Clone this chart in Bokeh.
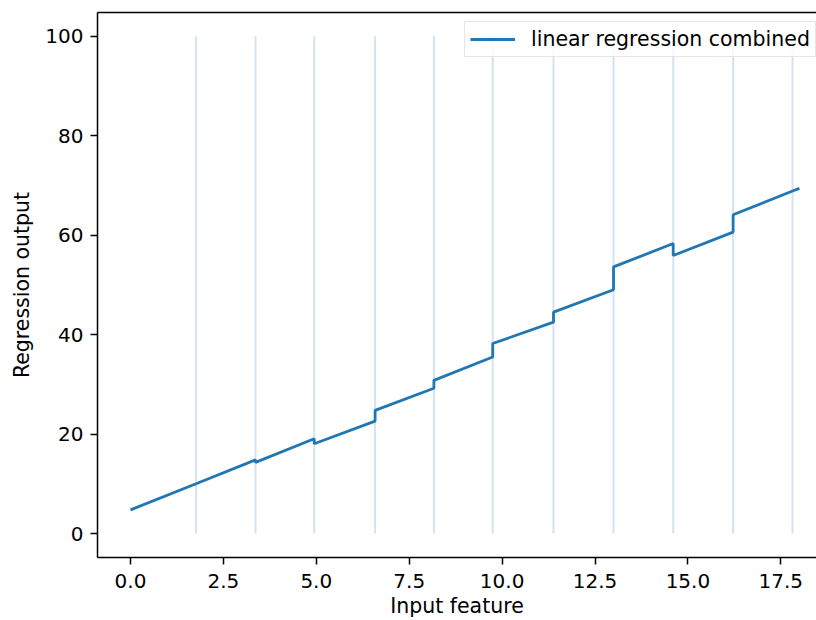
from bokeh.plotting import figure
from bokeh.models import Range1d, FixedTicker, LinearAxis, Legend, LegendItem
from bokeh.embed import file_html
from bokeh.resources import INLINE

# ---- data ----
bin_edges = [0.0, 1.765, 3.364, 4.943, 6.582, 8.165, 9.747, 11.383, 12.998, 14.604, 16.216, 17.815, 18.0]
seg_start = [4.75, 10.0, 14.3, 18.05, 24.75, 30.8, 38.2, 44.5, 53.6, 55.9, 64.1, 68.85]
seg_end = [10.0, 14.8, 19.05, 22.6, 29.2, 35.5, 42.5, 49.0, 58.3, 60.6, 68.85, 69.4]
vline_x = bin_edges[1:-1]
vline_bottom = [0] * len(vline_x)
vline_top = [100] * len(vline_x)
x_ticks = [0, 2.5, 5, 7.5, 10, 12.5, 15, 17.5]
x_tick_labels = ["0.0", "2.5", "5.0", "7.5", "10.0", "12.5", "15.0", "17.5"]
y_ticks = [0, 20, 40, 60, 80, 100]
series_label = "linear regression combined"
x_label = "Input feature"
y_label = "Regression output"

line_x, line_y = [], []
for i in range(len(seg_start)):
    line_x += [bin_edges[i], bin_edges[i + 1]]
    line_y += [seg_start[i], seg_end[i]]

FONT = "DejaVu Sans"
BLUE = "#1f77b4"

p = figure(width=816, height=620, output_backend="svg", toolbar_location=None,
           x_range=Range1d(-0.888, 18.46), y_range=Range1d(-4.82, 104.75),
           min_border_left=97, min_border_right=0, min_border_top=12, min_border_bottom=63,
           background_fill_color="white", border_fill_color="white")
p.outline_line_color = None
p.grid.visible = False

p.segment(x0=vline_x, y0=vline_bottom, x1=vline_x, y1=vline_top,
          line_color=BLUE, line_alpha=0.2, line_width=2)
r = p.line(line_x, line_y, line_color=BLUE, line_width=2.8)

# axes
p.xaxis.ticker = FixedTicker(ticks=x_ticks)
p.xaxis.major_label_overrides = {t: l for t, l in zip(x_ticks, x_tick_labels)}
p.yaxis.ticker = FixedTicker(ticks=y_ticks)
p.xaxis.axis_label = x_label
p.yaxis.axis_label = y_label
for ax in (p.xaxis[0], p.yaxis[0]):
    ax.axis_line_color = "black"
    ax.axis_line_width = 1.5
    ax.major_tick_line_color = "black"
    ax.major_tick_line_width = 1.5
    ax.major_tick_out = 7
    ax.major_tick_in = 0
    ax.minor_tick_line_color = None
    ax.major_label_text_font = FONT
    ax.major_label_text_font_size = "20px"
    ax.major_label_text_color = "black"
    ax.axis_label_text_font = FONT
    ax.axis_label_text_font_size = "20.5px"
    ax.axis_label_text_font_style = "normal"
    ax.axis_label_text_color = "black"
p.xaxis.major_label_standoff = 9
p.xaxis.axis_label_standoff = 3
p.xaxis.axis_label_text_line_height = 0.7
p.yaxis.major_label_standoff = 7
p.yaxis.axis_label_standoff = 8

top = LinearAxis(ticker=FixedTicker(ticks=[]), axis_line_color="black", axis_line_width=1.5,
                 major_tick_out=0, major_tick_in=0, minor_tick_out=0, minor_tick_in=0,
                 major_label_standoff=0, major_tick_line_color=None, minor_tick_line_color=None)
p.add_layout(top, "above")

legend = Legend(items=[LegendItem(label=series_label, renderers=[r])], location=(367, 500),
                label_text_font=FONT, label_text_font_size="20.5px", label_text_color="black",
                glyph_width=45, glyph_height=20, label_standoff=16, padding=5, margin=0,
                border_line_color="#cccccc", border_line_width=1.5,
                background_fill_color="white", background_fill_alpha=0.8)
p.add_layout(legend)

open("out.html", "w").write(file_html(p, INLINE))
